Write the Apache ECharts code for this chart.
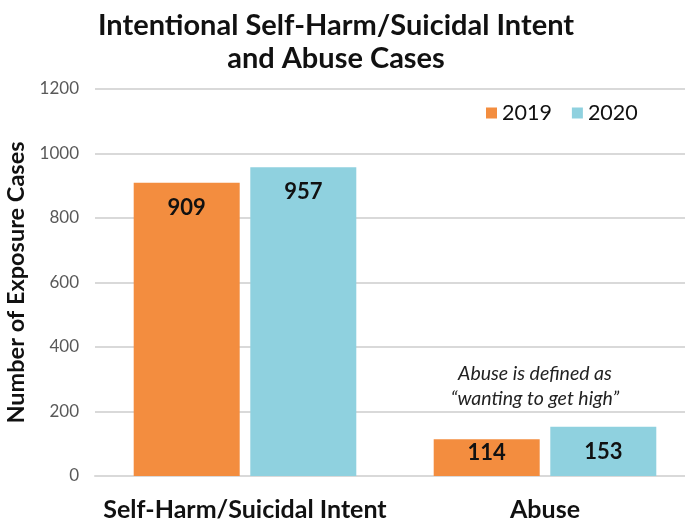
<!DOCTYPE html>
<html>
<head>
<meta charset="utf-8">
<script src="https://cdn.jsdelivr.net/npm/echarts@6/dist/echarts.min.js"></script>
<style>
  html, body { margin: 0; padding: 0; background: #fff; }
  #chart { width: 685px; height: 523px; }
</style>
</head>
<body>
<div id="chart"></div>
<script>
const categories = ['Self-Harm/Suicidal Intent', 'Abuse']
const seriesNames = ['2019', '2020']
const values2019 = [909, 114]
const values2020 = [957, 153]
const colors = ['#F38D3F', '#8FD1DF']

const chart = echarts.init(document.getElementById('chart'))

const labelStyle = {
    show: true,
    position: 'insideTop',
    distance: 14,
    color: '#111',
    fontFamily: 'Lato',
    fontSize: 22,
    fontWeight: 'bold'
}

// short bars get their label pushed up to the bar top, like the original
const withLabels = (vals) => vals.map(v => v < 130 ? { value: v, label: { distance: 3 } } : v)

chart.setOption({
    animation: false,
    title: {
        text: 'Intentional Self-Harm/Suicidal Intent\nand Abuse Cases',
        left: 331,
        textAlign: 'center',
        top: 4,
        textStyle: {
            fontFamily: 'Lato',
            fontSize: 29,
            fontWeight: 'bold',
            color: '#111',
            lineHeight: 33
        }
    },
    legend: {
        data: seriesNames,
        left: 481,
        top: 97,
        itemWidth: 11,
        itemHeight: 11,
        itemGap: 20,
        icon: 'rect',
        textStyle: { fontFamily: 'Lato', fontSize: 21.5, color: '#111' }
    },
    grid: {
        left: 95,
        top: 89,
        width: 600,
        height: 387,
        outerBoundsMode: 'none'
    },
    xAxis: {
        type: 'category',
        data: categories,
        axisTick: { show: false },
        axisLine: { lineStyle: { color: '#d9d9d9', width: 2 } },
        axisLabel: {
            interval: 0,
            margin: 21,
            color: '#111',
            fontFamily: 'Lato',
            fontSize: 25,
            fontWeight: 'bold'
        }
    },
    yAxis: {
        type: 'value',
        min: 0,
        max: 1200,
        interval: 200,
        name: 'Number of Exposure Cases',
        nameLocation: 'middle',
        nameGap: 66,
        nameTextStyle: {
            fontFamily: 'Lato',
            fontSize: 23.5,
            fontWeight: 'bold',
            color: '#111'
        },
        axisLine: { show: false },
        axisTick: { show: false },
        axisLabel: {
            margin: 16,
            color: '#595959',
            fontFamily: 'Lato',
            fontSize: 17,
            formatter: v => String(v)
        },
        splitLine: { lineStyle: { color: '#d9d9d9', width: 2 } }
    },
    series: [
        {
            name: seriesNames[0],
            type: 'bar',
            data: withLabels(values2019),
            barWidth: 106,
            barGap: '10%',
            itemStyle: { color: colors[0] },
            label: labelStyle
        },
        {
            name: seriesNames[1],
            type: 'bar',
            data: withLabels(values2020),
            barWidth: 106,
            barGap: '10%',
            itemStyle: { color: colors[1] },
            label: labelStyle
        }
    ],
    graphic: [
        {
            type: 'text',
            x: 535,
            y: 361,
            style: {
                text: 'Abuse is defined as\n\u201cwanting to get high\u201d',
                align: 'center',
                fontFamily: 'Lato',
                fontStyle: 'italic',
                fontSize: 19.5,
                lineHeight: 25,
                fill: '#222'
            }
        }
    ]
})
</script>
</body>
</html>
